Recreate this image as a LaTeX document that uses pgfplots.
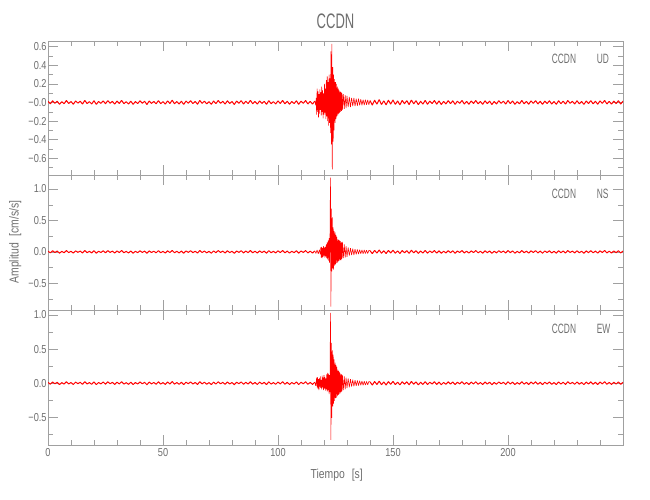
\documentclass[border=0pt]{standalone}
\usepackage{fontspec}
\setmainfont{Liberation Sans}[FakeStretch=0.8]
\newfontfamily\capsfont{Liberation Sans}[FakeStretch=0.62]
\usepackage{pgfplots}
\usepackage{pgfplotstable}
\pgfplotsset{compat=1.18}
\definecolor{txt}{RGB}{110,110,110}
\definecolor{axc}{RGB}{160,160,160}

\pgfplotstableread{
t a
0 0.012
1 -0.015
2 0.018
3 -0.009
4 0.014
5 -0.020
6 0.008
7 -0.013
8 0.021
9 -0.011
10 0.010
11 -0.019
12 0.016
13 -0.007
14 0.013
15 -0.017
16 0.022
17 -0.012
18 0.009
19 -0.016
20 0.019
21 -0.021
22 0.011
23 -0.010
24 0.017
25 -0.014
26 0.020
27 -0.008
28 0.012
29 -0.018
30 0.015
31 -0.011
32 0.023
33 -0.013
34 0.008
35 -0.017
36 0.014
37 -0.020
38 0.010
39 -0.012
40 0.018
41 -0.009
42 0.013
43 -0.022
44 0.016
45 -0.010
46 0.011
47 -0.015
48 0.020
49 -0.013
50 0.009
51 -0.018
52 0.017
53 -0.011
54 0.024
55 -0.014
56 0.010
57 -0.016
58 0.013
59 -0.021
60 0.015
61 -0.008
62 0.019
63 -0.012
64 0.011
65 -0.019
66 0.022
67 -0.010
68 0.014
69 -0.015
70 0.009
71 -0.020
72 0.016
73 -0.013
74 0.021
75 -0.009
76 0.012
77 -0.017
78 0.018
79 -0.011
80 0.010
81 -0.022
82 0.015
83 -0.008
84 0.019
85 -0.016
86 0.013
87 -0.012
88 0.023
89 -0.014
90 0.011
91 -0.018
92 0.016
93 -0.010
94 0.012
95 -0.021
96 0.020
97 -0.013
98 0.009
99 -0.016
100 0.017
101 -0.011
102 0.022
103 -0.015
104 0.013
105 -0.019
106 0.010
107 -0.012
108 0.018
109 -0.020
110 0.014
111 -0.009
112 0.021
113 -0.016
114 0.012
115 -0.018
116 0.015
}\noisepre

\pgfplotstableread{
t a
140 0.020
141 -0.028
142 0.025
143 -0.019
144 0.030
145 -0.022
146 0.018
147 -0.026
148 0.024
149 -0.017
150 0.027
151 -0.021
152 0.016
153 -0.025
154 0.022
155 -0.014
156 0.020
157 -0.023
158 0.026
159 -0.015
160 0.019
161 -0.024
162 0.013
163 -0.018
164 0.023
165 -0.020
166 0.015
167 -0.012
168 0.021
169 -0.019
170 0.017
171 -0.022
172 0.011
173 -0.016
174 0.020
175 -0.013
176 0.018
177 -0.021
178 0.014
179 -0.010
180 0.022
181 -0.017
182 0.012
183 -0.019
184 0.016
185 -0.011
186 0.021
187 -0.015
188 0.010
189 -0.020
190 0.018
191 -0.013
192 0.015
193 -0.022
194 0.011
195 -0.016
196 0.019
197 -0.009
198 0.014
199 -0.018
200 0.021
201 -0.012
202 0.016
203 -0.020
204 0.009
205 -0.015
206 0.022
207 -0.014
208 0.012
209 -0.019
210 0.017
211 -0.010
212 0.020
213 -0.016
214 0.013
215 -0.021
216 0.015
217 -0.011
218 0.018
219 -0.017
220 0.010
221 -0.020
222 0.019
223 -0.013
224 0.014
225 -0.018
226 0.021
227 -0.009
228 0.012
229 -0.016
230 0.018
231 -0.014
232 0.011
233 -0.021
234 0.016
235 -0.012
236 0.020
237 -0.015
238 0.013
239 -0.019
240 0.017
241 -0.010
242 0.022
243 -0.016
244 0.012
245 -0.018
246 0.015
247 -0.013
248 0.019
249 -0.017
250 0.014
}\noisepost

\pgfplotstableread{
t a
116.0 0.015
116.4 -0.03
116.6 0.05
116.8 -0.13
117.0 0.15
117.2 -0.10
117.4 0.12
117.6 -0.16
117.8 0.09
118.0 -0.12
118.2 0.14
118.4 -0.08
118.6 0.11
118.8 -0.14
119.0 0.17
119.2 -0.10
119.4 0.13
119.6 -0.17
119.8 0.10
120.0 -0.13
120.2 0.20
120.4 -0.11
120.6 0.15
120.8 -0.18
121.0 0.24
121.2 -0.15
121.4 0.28
121.6 -0.20
121.8 0.22
122.0 -0.25
122.2 0.30
122.4 -0.22
122.6 0.26
122.8 -0.33
123.0 0.55
123.2 -0.45
123.4 0.63
123.6 -0.72
123.8 0.38
124.0 -0.42
124.2 0.30
124.4 -0.30
124.6 0.25
124.8 -0.22
125.0 0.22
125.2 -0.18
125.4 0.20
125.6 -0.15
125.8 0.17
126.0 -0.14
126.2 0.15
126.4 -0.12
126.6 0.13
126.8 -0.11
127.0 0.12
127.2 -0.10
127.4 0.11
127.6 -0.09
127.8 0.10
128.0 -0.08
128.4 0.09
128.8 -0.07
129.2 0.08
129.6 -0.06
130.0 0.07
130.5 -0.05
131.0 0.06
131.5 -0.05
132.0 0.05
132.5 -0.04
133.0 0.05
133.5 -0.04
134.0 0.04
134.5 -0.035
135.0 0.04
135.5 -0.03
136.0 0.035
136.5 -0.03
137.0 0.03
137.5 -0.028
138.0 0.03
138.5 -0.025
139.0 0.028
139.5 -0.024
140.0 0.020
}\evud

\pgfplotstableread{
t a
116.0 0.015
116.5 -0.025
117.0 0.03
117.5 -0.03
118.0 0.035
118.4 -0.04
118.6 0.07
118.8 -0.09
119.0 0.08
119.2 -0.10
119.4 0.06
119.6 -0.08
119.8 0.09
120.0 -0.06
120.2 0.07
120.4 -0.09
120.6 0.08
120.8 -0.07
121.0 0.12
121.2 -0.10
121.4 0.15
121.6 -0.12
121.8 0.18
122.0 -0.14
122.2 0.22
122.4 -0.17
122.6 0.20
122.8 1.18
123.0 -0.87
123.2 0.69
123.4 -0.31
123.6 0.55
123.8 -0.26
124.0 0.39
124.2 -0.28
124.4 0.33
124.6 -0.22
124.8 0.31
125.0 -0.20
125.2 0.27
125.4 -0.18
125.6 0.24
125.8 -0.17
126.0 0.20
126.2 -0.15
126.4 0.19
126.6 -0.14
126.8 0.18
127.0 -0.13
127.2 0.17
127.4 -0.13
127.6 0.15
127.8 -0.11
128.0 0.16
128.4 -0.10
128.8 0.12
129.2 -0.09
129.6 0.09
130.0 -0.08
130.5 0.07
131.0 -0.06
131.5 0.06
132.0 -0.05
132.5 0.05
133.0 -0.05
133.5 0.045
134.0 -0.04
134.5 0.04
135.0 -0.035
135.5 0.035
136.0 -0.03
136.5 0.032
137.0 -0.03
137.5 0.03
138.0 -0.028
138.5 0.027
139.0 -0.025
139.5 0.024
140.0 0.020
}\evns

\pgfplotstableread{
t a
116.0 0.015
116.4 -0.04
116.8 0.08
117.0 -0.06
117.2 0.09
117.4 -0.08
117.6 0.06
117.8 -0.10
118.0 0.07
118.2 -0.05
118.4 0.10
118.6 -0.07
118.8 0.05
119.0 -0.09
119.2 0.11
119.4 -0.06
119.6 0.08
119.8 -0.10
120.0 0.12
120.2 -0.08
120.4 0.09
120.6 -0.11
120.8 0.07
121.0 -0.09
121.2 0.13
121.4 -0.12
121.6 0.15
121.8 -0.10
122.0 0.14
122.2 -0.16
122.4 0.12
122.6 -0.13
122.8 1.03
123.0 -0.83
123.2 0.59
123.4 -0.51
123.6 0.48
123.8 -0.34
124.0 0.42
124.2 -0.30
124.4 0.35
124.6 -0.26
124.8 0.30
125.0 -0.22
125.2 0.27
125.4 -0.21
125.6 0.24
125.8 -0.19
126.0 0.20
126.2 -0.17
126.4 0.18
126.6 -0.16
126.8 0.16
127.0 -0.15
127.2 0.14
127.4 -0.13
127.6 0.13
127.8 -0.12
128.0 0.12
128.4 -0.10
128.8 0.10
129.2 -0.09
129.6 0.08
130.0 -0.07
130.5 0.07
131.0 -0.06
131.5 0.06
132.0 -0.05
132.5 0.05
133.0 -0.045
133.5 0.045
134.0 -0.04
134.5 0.04
135.0 -0.035
135.5 0.035
136.0 -0.03
136.5 0.03
137.0 -0.03
137.5 0.028
138.0 -0.027
138.5 0.026
139.0 -0.025
139.5 0.024
140.0 0.020
}\evew

\pgfplotsset{
  panel/.style={
    anchor=north west, scale only axis, width=575pt,
    xmin=0, xmax=250,
    xtick={0,50,100,150,200},
    minor xtick={10,20,30,40,60,70,80,90,110,120,130,140,160,170,180,190,210,220,230,240},
    axis line style={axc}, every tick/.style={axc},
    major tick length=10pt, minor tick length=5pt,
    tick align=inside,
    ticklabel style={text=txt, font=\fontsize{11.5}{13}\selectfont},
    yticklabel style={inner sep=1.2pt},
    xticklabel style={inner sep=3pt},
  },
  trace/.style={red, line width=0.55pt, line join=bevel},
  noise/.style={red, line width=1.0pt, line join=bevel},
}

\begin{document}
\begin{tikzpicture}
\useasboundingbox (0,0) rectangle (650pt,-500pt);

% Panel 1: UD
\begin{axis}[panel, at={(48pt,-41pt)}, height=134pt,
  ymin=-0.78, ymax=0.661,
  ytick={-0.6,-0.4,-0.2,0,0.2,0.4,0.6},
  yticklabels={−0.6,−0.4,−0.2,−0.0,0.2,0.4,0.6},
  minor ytick={-0.7,-0.5,-0.3,-0.1,0.1,0.3,0.5},
  xticklabels={}]
\addplot[noise] table[x=t,y=a]{\noisepre};
\addplot[trace] table[x=t,y=a]{\evud};
\addplot[noise] table[x=t,y=a]{\noisepost};
\end{axis}

% Panel 2: NS
\begin{axis}[panel, at={(48pt,-175pt)}, height=135pt,
  ymin=-0.924, ymax=1.223,
  ytick={-0.5,0,0.5,1},
  yticklabels={−0.5,0.0,0.5,1.0},
  minor ytick={-0.75,-0.25,0.25,0.75},
  xticklabels={}]
\addplot[noise] table[x=t,y=a]{\noisepre};
\addplot[trace] table[x=t,y=a]{\evns};
\addplot[noise] table[x=t,y=a]{\noisepost};
\end{axis}

% Panel 3: EW
\begin{axis}[panel, at={(48pt,-310pt)}, height=135pt,
  ymin=-0.906, ymax=1.073,
  ytick={-0.5,0,0.5,1},
  yticklabels={−0.5,0.0,0.5,1.0},
  minor ytick={-0.75,-0.25,0.25,0.75},
  xticklabels={0,50,100,150,200}]
\addplot[noise] table[x=t,y=a]{\noisepre};
\addplot[trace] table[x=t,y=a]{\evew};
\addplot[noise] table[x=t,y=a]{\noisepost};
\end{axis}

% Texts
\node[anchor=base, inner sep=0, text=txt, font=\capsfont\fontsize{21}{21}\selectfont] at (335.5pt,-29pt) {CCDN};
\node[anchor=base, inner sep=0, text=txt, font=\fontsize{13}{15}\selectfont] at (336.7pt,-478.3pt) {Tiempo\hspace{4pt} [s]};
\node[anchor=base, inner sep=0, text=txt, rotate=90, font=\fontsize{13}{15}\selectfont] at (18.5pt,-242pt) {Amplitud\hspace{4pt} [cm/s/s]};

\foreach \lab/\yb in {UD/64, NS/198, EW/333}{
  \node[anchor=base west, inner sep=0, text=txt, font=\capsfont\fontsize{13.5}{15}\selectfont] at (551.7pt,-\yb pt) {CCDN};
  \node[anchor=base west, inner sep=0, text=txt, font=\capsfont\fontsize{13.5}{15}\selectfont] at (596.7pt,-\yb pt) {\lab};
}
\end{tikzpicture}
\end{document}
